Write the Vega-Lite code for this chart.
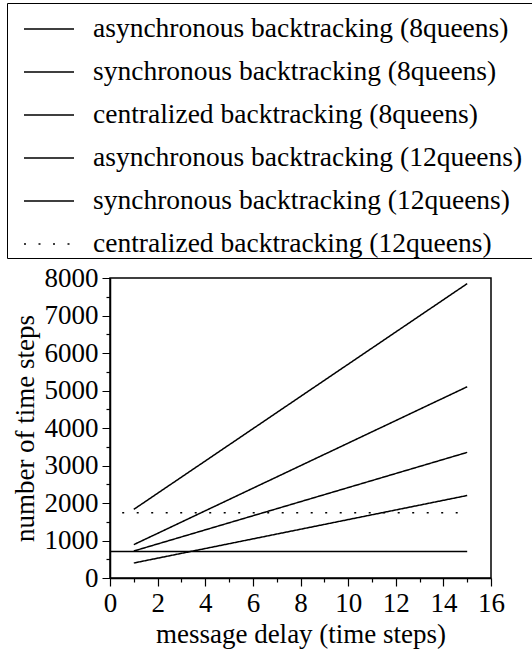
{
  "$schema": "https://vega.github.io/schema/vega-lite/v6.json",
  "width": 381,
  "height": 300,
  "autosize": {"type": "none"},
  "padding": {"left": 110, "top": 278, "right": 41, "bottom": 71},
  "background": "white",
  "config": {
    "view": {"stroke": "black", "strokeWidth": 1.5},
    "font": "Liberation Serif"
  },
  "data": {
    "values": [
      {"series": "asynchronous backtracking (8queens)", "delay": 1, "steps": 400},
      {"series": "asynchronous backtracking (8queens)", "delay": 15, "steps": 2200},
      {"series": "synchronous backtracking (8queens)", "delay": 1, "steps": 720},
      {"series": "synchronous backtracking (8queens)", "delay": 15, "steps": 3350},
      {"series": "centralized backtracking (8queens)", "delay": 0, "steps": 710},
      {"series": "centralized backtracking (8queens)", "delay": 15, "steps": 710},
      {"series": "asynchronous backtracking (12queens)", "delay": 1, "steps": 890},
      {"series": "asynchronous backtracking (12queens)", "delay": 15, "steps": 5100},
      {"series": "synchronous backtracking (12queens)", "delay": 1, "steps": 1830},
      {"series": "synchronous backtracking (12queens)", "delay": 15, "steps": 7850},
      {"series": "centralized backtracking (12queens)", "delay": 0, "steps": 1740},
      {"series": "centralized backtracking (12queens)", "delay": 15, "steps": 1740}
    ]
  },
  "mark": {"type": "line", "strokeWidth": 1.5, "color": "black", "strokeDashOffset": 2.3},
  "encoding": {
    "x": {
      "field": "delay",
      "type": "quantitative",
      "scale": {"domain": [0, 16], "nice": false, "zero": false},
      "axis": {
        "title": "message delay (time steps)",
        "values": [0, 0.5, 1, 1.5, 2, 2.5, 3, 3.5, 4, 4.5, 5, 5.5, 6, 6.5, 7, 7.5, 8, 8.5, 9, 9.5, 10, 10.5, 11, 11.5, 12, 12.5, 13, 13.5, 14, 14.5, 15, 15.5, 16],
        "labelExpr": "datum.value % 2 === 0 ? datum.label : ''",
        "format": "d",
        "grid": false,
        "tickSize": 8,
        "tickWidth": 1.2,
        "tickColor": "black",
        "tickDash": {"condition": {"test": "datum.value % 2 !== 0", "value": [4, 20]}, "value": [1, 0]},
        "domainColor": "black",
        "domainWidth": 1.5,
        "labelFont": "Liberation Serif",
        "labelFontSize": 27,
        "labelColor": "black",
        "labelPadding": 4,
        "labelFlush": false,
        "labelOverlap": false,
        "titleFont": "Liberation Serif",
        "titleFontSize": 27,
        "titleFontWeight": "normal",
        "titleColor": "black",
        "titlePadding": 5
      }
    },
    "y": {
      "field": "steps",
      "type": "quantitative",
      "scale": {"domain": [0, 8000], "nice": false},
      "axis": {
        "title": "number of time steps",
        "values": [0, 500, 1000, 1500, 2000, 2500, 3000, 3500, 4000, 4500, 5000, 5500, 6000, 6500, 7000, 7500, 8000],
        "labelExpr": "datum.value % 1000 === 0 ? datum.label : ''",
        "format": "d",
        "grid": false,
        "tickSize": 8,
        "tickWidth": 1.2,
        "tickColor": "black",
        "tickDash": {"condition": {"test": "datum.value % 1000 !== 0", "value": [4, 20]}, "value": [1, 0]},
        "domainColor": "black",
        "domainWidth": 1.5,
        "labelFont": "Liberation Serif",
        "labelFontSize": 27,
        "labelColor": "black",
        "labelPadding": 4,
        "labelFlush": false,
        "labelOverlap": false,
        "titleFont": "Liberation Serif",
        "titleFontSize": 27,
        "titleFontWeight": "normal",
        "titleColor": "black",
        "titlePadding": 5
      }
    },
    "strokeDash": {
      "field": "series",
      "type": "nominal",
      "scale": {
        "domain": [
          "asynchronous backtracking (8queens)",
          "synchronous backtracking (8queens)",
          "centralized backtracking (8queens)",
          "asynchronous backtracking (12queens)",
          "synchronous backtracking (12queens)",
          "centralized backtracking (12queens)"
        ],
        "range": [[1, 0], [1, 0], [1, 0], [1, 0], [1, 0], [2, 12.5]]
      },
      "legend": {
        "orient": "none",
        "legendX": -103,
        "legendY": -275,
        "title": " ",
        "titleOrient": "right",
        "titlePadding": 20,
        "titleFontSize": 10,
        "symbolType": "stroke",
        "symbolSize": 2500,
        "symbolOffset": 16,
        "symbolStrokeWidth": 1.5,
        "symbolStrokeColor": "black",
        "labelFont": "Liberation Serif",
        "labelFontSize": 27.5,
        "labelColor": "black",
        "labelOffset": 18,
        "labelLimit": 0,
        "rowPadding": 3,
        "padding": 0,
        "strokeColor": "black"
      }
    }
  }
}
